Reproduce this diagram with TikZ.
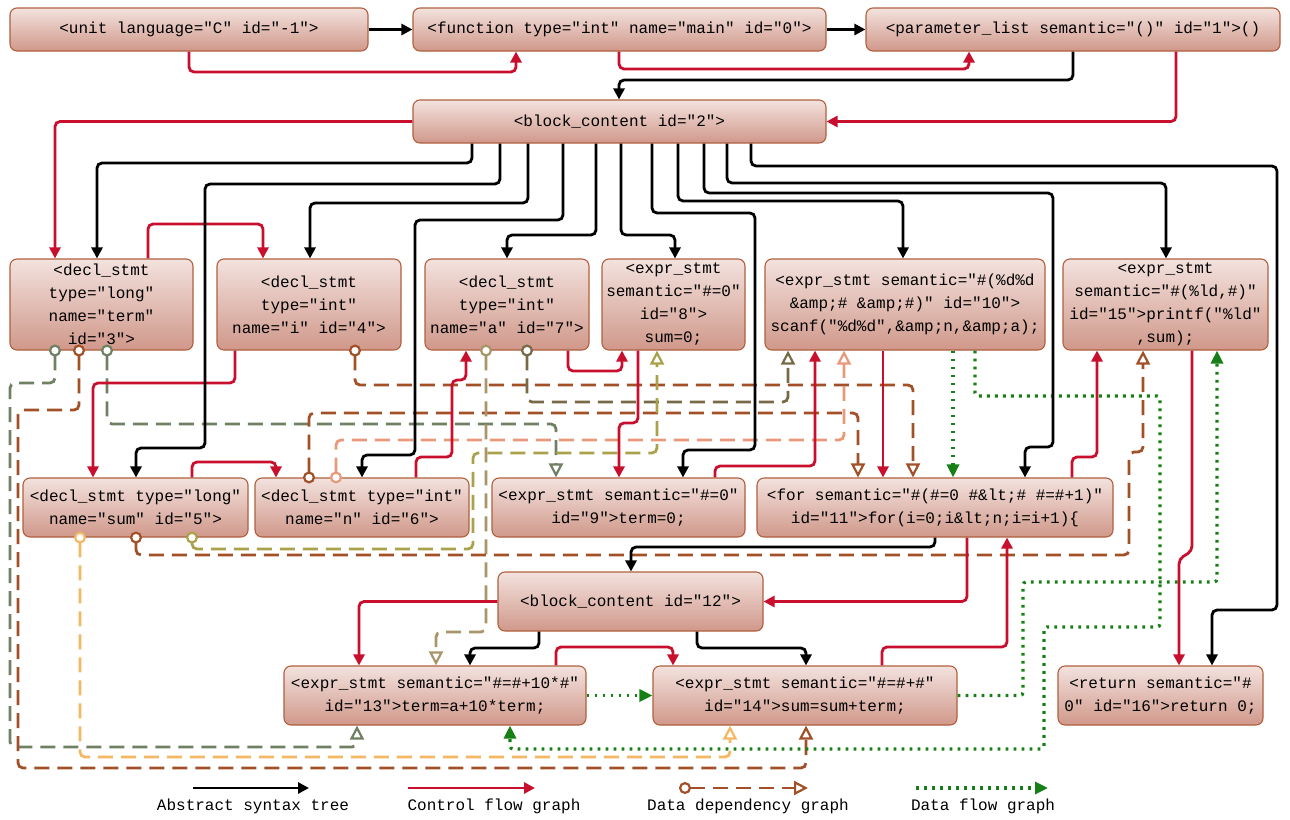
\documentclass[tikz,border=0pt]{standalone}
\usepackage{fontspec}
\newfontfamily\codefont{Liberation Mono}
\usetikzlibrary{arrows.meta}
\definecolor{cfgred}{RGB}{200,16,46}
\definecolor{dfggreen}{RGB}{22,128,22}
\definecolor{ndtop}{RGB}{243,226,222}
\definecolor{ndbot}{RGB}{208,152,138}
\definecolor{ndborder}{RGB}{176,96,62}
\definecolor{dgreen}{RGB}{112,128,98}
\definecolor{dbrown}{RGB}{162,80,40}
\definecolor{dtan}{RGB}{168,150,104}
\definecolor{dolive}{RGB}{120,106,70}
\definecolor{dyellow}{RGB}{170,162,74}
\definecolor{dsalmon}{RGB}{234,152,122}
\definecolor{dorange}{RGB}{244,184,100}
\tikzset{
  nd/.style={rectangle, rounded corners=7pt, draw=ndborder, line width=1.1pt,
    top color=ndtop, bottom color=ndbot, inner sep=2pt, align=center,
    font=\codefont\fontsize{16}{23}\selectfont, text=black},
  lgtext/.style={font=\codefont\fontsize{16}{20}\selectfont, text=black},
  ast/.style={draw=black, line width=2.8pt, -{Triangle[length=11pt,width=11pt]}, rounded corners=5pt},
  cfg/.style={draw=cfgred, line width=2.8pt, -{Triangle[length=11pt,width=11pt]}, rounded corners=5pt},
  dfg/.style={draw=dfggreen, line width=3.2pt, dash pattern=on 2.8pt off 5.2pt, -{Triangle[length=13pt,width=12pt]}, rounded corners=3pt},
  ddg/.style={line width=2.8pt, dash pattern=on 15pt off 8pt, rounded corners=5pt, shorten <=-6pt,
    {Circle[fill=white,length=12pt,width=12pt,line width=2.2pt]}-{Triangle[fill=white,length=14pt,width=14pt,line width=2.2pt]}}
}
\begin{document}
\begin{tikzpicture}[x=1pt,y=-1pt]
\fill[white] (0,0) rectangle (1290,819);
\useasboundingbox (0,0) rectangle (1290,819);

% nodes
\node[nd, minimum width=358pt, minimum height=43pt] (u) at (189,29.5) {<unit language="C" id="-1">};
\node[nd, minimum width=413pt, minimum height=43pt] (f) at (619.5,29.5) {<function type="int" name="main" id="0">};
\node[nd, minimum width=414pt, minimum height=43pt] (p) at (1073,29.5) {<parameter\_list semantic="()" id="1">()};
\node[nd, minimum width=413pt, minimum height=43pt] (b2) at (619.5,121.5) {<block\_content id="2">};

\node[nd, minimum width=183pt, minimum height=91pt] (n3) at (101.5,304.5) {<decl\_stmt\\type="long"\\name="term"\\id="3">};
\node[nd, minimum width=184pt, minimum height=91pt] (n4) at (309,304.5) {<decl\_stmt\\type="int"\\name="i" id="4">};
\node[nd, minimum width=164pt, minimum height=91pt] (n7) at (507,304.5) {<decl\_stmt\\type="int"\\name="a" id="7">};
\node[nd, minimum width=143pt, minimum height=91pt] (n8) at (673.5,304.5) {<expr\_stmt\\semantic="\#=0"\\id="8">\\sum=0;};
\node[nd, minimum width=280pt, minimum height=91pt] (n10) at (905,304.5) {<expr\_stmt semantic="\#(\%d\%d\\\&amp;\# \&amp;\#)" id="10">\\scanf("\%d\%d",\&amp;n,\&amp;a);};
\node[nd, minimum width=205pt, minimum height=91pt] (n15) at (1165.5,304.5) {<expr\_stmt\\semantic="\#(\%ld,\#)"\\id="15">printf("\%ld"\\,sum);};

\node[nd, minimum width=225pt, minimum height=59pt] (n5) at (135.5,507.5) {<decl\_stmt type="long"\\name="sum" id="5">};
\node[nd, minimum width=214pt, minimum height=59pt] (n6) at (362,507.5) {<decl\_stmt type="int"\\name="n" id="6">};
\node[nd, minimum width=253pt, minimum height=59pt] (n9) at (618.5,507.5) {<expr\_stmt semantic="\#=0"\\id="9">term=0;};
\node[nd, minimum width=356pt, minimum height=59pt] (n11) at (935,507.5) {<for semantic="\#(\#=0 \#\&lt;\# \#=\#+1)"\\id="11">for(i=0;i\&lt;n;i=i+1)\{};

\node[nd, minimum width=265pt, minimum height=59pt] (b12) at (630.5,601.5) {<block\_content id="12">};

\node[nd, minimum width=302pt, minimum height=59pt] (n13) at (435,695.5) {<expr\_stmt semantic="\#=\#+10*\#"\\id="13">term=a+10*term;};
\node[nd, minimum width=304pt, minimum height=59pt] (n14) at (805,695.5) {<expr\_stmt semantic="\#=\#+\#"\\id="14">sum=sum+term;};
\node[nd, minimum width=205pt, minimum height=59pt] (n16) at (1160.5,695.5) {<return semantic="\#\\0" id="16">return 0;};

% data dependency graph
\draw[ddg, draw=dgreen] (n3.south -| 55,0) -- (55,383) -- (10,383) -- (10,747) -- (357,747) -- (n13.south -| 357,0);
\draw[ddg, draw=dbrown] (n3.south -| 79,0) -- (79,410) -- (18,410) -- (18,768) -- (806,768) -- (n14.south -| 806,0);
\draw[ddg, draw=dgreen] (n3.south -| 107,0) -- (107,424) -- (556,424) -- (n9.north -| 556,0);
\draw[ddg, draw=dbrown] (n4.south -| 355,0) -- (355,385) -- (913,385) -- (n11.north -| 913,0);
\draw[ddg, draw=dbrown] (n6.north -| 309,0) -- (309,413) -- (858,413) -- (n11.north -| 858,0);
\draw[ddg, draw=dsalmon] (n6.north -| 336,0) -- (336,440) -- (844,440) -- (n10.south -| 844,0);
\draw[ddg, draw=dtan] (n7.south -| 486,0) -- (486,632) -- (436,632) -- (n13.north -| 436,0);
\draw[ddg, draw=dolive] (n7.south -| 527,0) -- (527,402) -- (788,402) -- (n10.south -| 788,0);
\draw[ddg, draw=dorange] (n5.south -| 80,0) -- (80,757) -- (730,757) -- (n14.south -| 730,0);
\draw[ddg, draw=dbrown] (n5.south -| 136,0) -- (136,555) -- (1129,555) -- (1129,452) -- (1143,452) -- (n15.south -| 1143,0);
\draw[ddg, draw=dyellow] (n5.south -| 192,0) -- (192,549) -- (473,549) -- (473,453) -- (657,453) -- (n8.south -| 657,0);

% data flow graph
\draw[dfg] (n10.south -| 953,0) -- (n11.north -| 953,0);
\draw[dfg] (n10.south -| 975,0) -- (975,396) -- (1160,396) -- (1160,627) -- (1044,627) -- (1044,749) -- (510,749) -- (n13.south -| 510,0);
\draw[dfg] (n14.east) -- (1023,695.5) -- (1023,582) -- (1217,582) -- (n15.south -| 1217,0);
\draw[dfg] (n13.east) -- (n14.west);

% control flow graph
\draw[cfg] (u.south -| 189,0) -- (189,72) -- (516,72) -- (f.south -| 516,0);
\draw[cfg] (f.south -| 619,0) -- (619,69) -- (969,69) -- (p.south -| 969,0);
\draw[cfg] (p.south -| 1176,0) -- (1176,121.5) -- (b2.east);
\draw[cfg] (b2.west) -- (55,121.5) -- (n3.north -| 55,0);
\draw[cfg] (n3.north -| 148,0) -- (148,224) -- (263,224) -- (n4.north -| 263,0);
\draw[cfg] (n4.south -| 235,0) -- (235,383) -- (93,383) -- (n5.north -| 93,0);
\draw[cfg] (n5.north -| 192,0) -- (192,462) -- (276,462) -- (n6.north -| 276,0);
\draw[cfg] (n6.north -| 416,0) -- (416,457) -- (452,457) -- (452,380) -- (466,380) -- (n7.south -| 466,0);
\draw[cfg] (n7.south -| 568,0) -- (568,371) -- (622,371) -- (n8.south -| 622,0);
\draw[cfg] (n8.south -| 638,0) -- (638,423) -- (619,423) -- (n9.north -| 619,0);
\draw[cfg] (n9.north -| 715,0) -- (715,466) -- (815,466) -- (n10.south -| 815,0);
\draw[cfg] (n10.south -| 883,0) -- (n11.north -| 883,0);
\draw[cfg] (n11.north -| 1072,0) -- (1072,457) -- (1097,457) -- (n15.south -| 1097,0);
\draw[cfg] (n11.south -| 967,0) -- (967,601.5) -- (b12.east);
\draw[cfg] (b12.west) -- (359,601.5) -- (n13.north -| 359,0);
\draw[cfg] (n13.north -| 556,0) -- (556,647) -- (673,647) -- (n14.north -| 673,0);
\draw[cfg] (n14.north -| 882,0) -- (882,647) -- (1007,647) -- (n11.south -| 1007,0);
\draw[cfg] (n15.south -| 1192,0) -- (1192,551) -- (1179,559) -- (n16.north -| 1179,0);

% abstract syntax tree
\draw[ast] (u.east) -- (f.west);
\draw[ast] (f.east) -- (p.west);
\draw[ast] (p.south -| 1073,0) -- (1073,80) -- (619,80) -- (b2.north -| 619,0);
\draw[ast] (b2.south -| 472,0) -- (472,163) -- (97,163) -- (n3.north -| 97,0);
\draw[ast] (b2.south -| 500,0) -- (500,184) -- (205,184) -- (205,448) -- (136,448) -- (n5.north -| 136,0);
\draw[ast] (b2.south -| 528,0) -- (528,203) -- (310,203) -- (n4.north -| 310,0);
\draw[ast] (b2.south -| 563,0) -- (563,220) -- (415,220) -- (415,455) -- (362,455) -- (n6.north -| 362,0);
\draw[ast] (b2.south -| 596,0) -- (596,235) -- (507,235) -- (n7.north -| 507,0);
\draw[ast] (b2.south -| 621,0) -- (621,235) -- (675,235) -- (n8.north -| 675,0);
\draw[ast] (b2.south -| 652,0) -- (652,213) -- (755,213) -- (755,450) -- (683,450) -- (n9.north -| 683,0);
\draw[ast] (b2.south -| 678,0) -- (678,201) -- (903,201) -- (n10.north -| 903,0);
\draw[ast] (b2.south -| 704,0) -- (704,193) -- (1053,193) -- (1053,447) -- (1025,447) -- (n11.north -| 1025,0);
\draw[ast] (b2.south -| 727,0) -- (727,183) -- (1166,183) -- (n15.north -| 1166,0);
\draw[ast] (b2.south -| 751,0) -- (751,166) -- (1277,166) -- (1277,610) -- (1212,610) -- (n16.north -| 1212,0);
\draw[ast] (n11.south -| 935,0) -- (935,547) -- (631,547) -- (b12.north -| 631,0);
\draw[ast] (b12.south -| 539,0) -- (539,648) -- (470,648) -- (n13.north -| 470,0);
\draw[ast] (b12.south -| 697,0) -- (697,648) -- (806,648) -- (n14.north -| 806,0);

% legend
\coordinate (la1) at (193,788); \coordinate (la2) at (309,788);
\coordinate (lc1) at (408,788); \coordinate (lc2) at (535,788);
\coordinate (ld1) at (679,788); \coordinate (ld2) at (808,788);
\coordinate (lf1) at (916,788); \coordinate (lf2) at (1048,788);
\draw[ast] (la1) -- (la2);
\draw[cfg] (lc1) -- (lc2);
\draw[ddg, draw=dbrown, shorten <=0pt] (ld1) -- (ld2);
\draw[dfg] (lf1) -- (lf2);
\node[lgtext] (lta) at (253,806) {Abstract syntax tree};
\node[lgtext] (ltc) at (494,806) {Control flow graph};
\node[lgtext] (ltd) at (748,806) {Data dependency graph};
\node[lgtext] (ltf) at (983,806) {Data flow graph};
\end{tikzpicture}
\end{document}
